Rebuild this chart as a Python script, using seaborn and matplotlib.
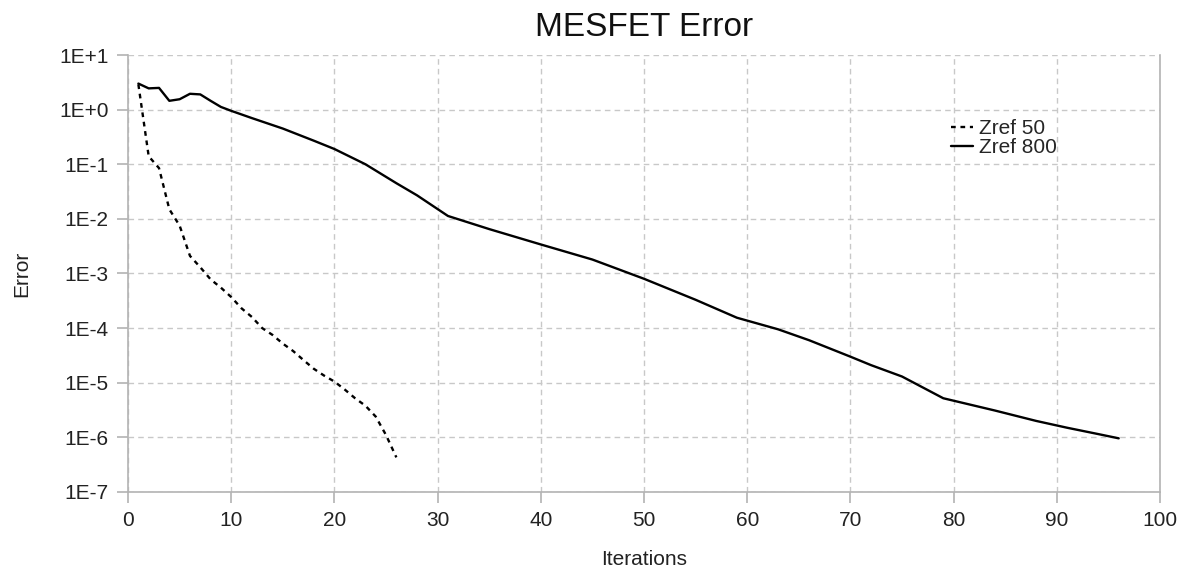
import numpy as np
import pandas as pd
import matplotlib
matplotlib.use("Agg")
import matplotlib.pyplot as plt
from matplotlib.ticker import FixedLocator, FuncFormatter
import seaborn as sns

# Zref 50 series
iter_z50 = [1, 2, 3, 4, 5, 6, 7, 8, 9, 10, 11, 12, 13, 14, 15, 16, 17, 18,
            19, 20, 21, 22, 23, 24, 25, 26]
err_z50 = [2.9, 0.14, 0.085, 0.015, 0.0075, 0.0021, 0.0013, 0.00078, 0.00055,
           0.00037, 0.00023, 0.00016, 0.0001, 7.5e-5, 5.2e-5, 3.8e-5, 2.6e-5,
           1.8e-5, 1.35e-5, 1.05e-5, 7.5e-6, 5.2e-6, 3.8e-6, 2.4e-6, 1.1e-6, 4.3e-7]

# Zref 800 series
iter_z800 = [1, 2, 3, 4, 5, 6, 7, 8, 9, 10, 12, 15, 18, 20, 23, 26, 28, 31,
             35, 40, 45, 50, 55, 59, 63, 66, 70, 72, 75, 79, 84, 88, 91, 94, 96]
err_z800 = [3.0, 2.45, 2.5, 1.45, 1.55, 1.95, 1.9, 1.45, 1.12, 0.95, 0.7, 0.45,
            0.27, 0.19, 0.1, 0.045, 0.027, 0.0113, 0.0065, 0.0034, 0.0018,
            0.0008, 0.00033, 0.000155, 9.5e-5, 6e-5, 3e-5, 2.1e-5, 1.3e-5,
            5.2e-6, 3.1e-6, 2e-6, 1.5e-6, 1.15e-6, 9.6e-7]

y_exponents = [1, 0, -1, -2, -3, -4, -5, -6, -7]
x_ticks = [0, 10, 20, 30, 40, 50, 60, 70, 80, 90, 100]

sns.set_theme(style="white")
plt.rcParams['font.family'] = ['Liberation Sans', 'DejaVu Sans']

df50 = pd.DataFrame({'Iterations': iter_z50, 'Error': err_z50})
df800 = pd.DataFrame({'Iterations': iter_z800, 'Error': err_z800})

fig = plt.figure(figsize=(11.89, 5.73), dpi=100)
ax = fig.add_axes([0.1077, 0.1414, 0.8679, 0.7626])

sns.lineplot(data=df50, x='Iterations', y='Error', ax=ax, color='black',
             linewidth=1.7, linestyle=(0, (2, 2)), label='Zref 50')
sns.lineplot(data=df800, x='Iterations', y='Error', ax=ax, color='black',
             linewidth=1.7, label='Zref 800')

ax.set_yscale('log')
ax.set_ylim(1e-7, 1e1)
ax.set_xlim(0, 100)
ax.yaxis.set_major_locator(FixedLocator([10.0 ** e for e in y_exponents]))
ax.yaxis.set_minor_locator(FixedLocator([]))
ax.yaxis.set_major_formatter(FuncFormatter(
    lambda v, p: "1E%+d" % int(round(np.log10(v)))))
ax.xaxis.set_major_locator(FixedLocator(x_ticks))

ax.grid(True, which='major', color='#c8c8c8', linestyle=(0, (4, 3)), linewidth=1)
for side in ['left', 'bottom', 'right']:
    ax.spines[side].set_color('#b3b3b3')
    ax.spines[side].set_linewidth(1.2)
ax.spines['top'].set_visible(False)
ax.tick_params(axis='both', which='major', length=8, width=1.2, color='#b3b3b3',
               labelsize=15, labelcolor='#222222', direction='out', pad=6,
               bottom=True, left=True)

ax.set_xlabel('Iterations', fontsize=15, color='#222222', labelpad=14)
ax.set_ylabel('Error', fontsize=15, color='#222222', labelpad=20)
ax.set_title('MESFET Error', fontsize=24, color='#111111', pad=14)

leg = ax.legend(loc='upper left', bbox_to_anchor=(0.797, 0.853), frameon=False,
                fontsize=15, handlelength=1.1, handletextpad=0.25,
                labelspacing=0.0, borderaxespad=0, borderpad=0)

fig.savefig('out.png', dpi=100)
